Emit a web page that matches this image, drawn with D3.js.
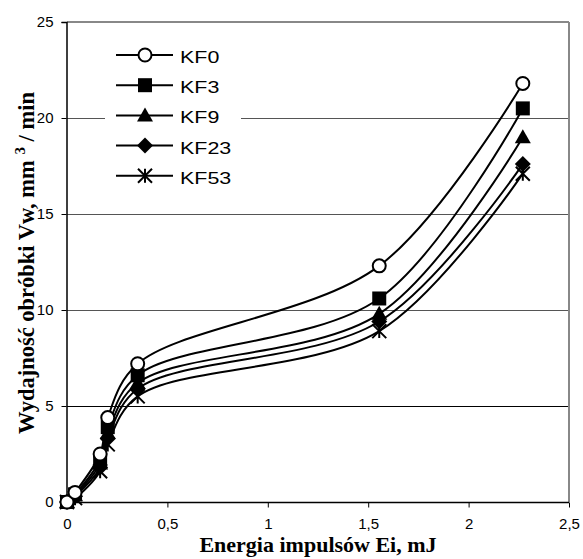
<!DOCTYPE html>
<html><head><meta charset="utf-8">
<script src="https://cdn.jsdelivr.net/npm/d3@7/dist/d3.min.js"></script>
<style>body{margin:0;background:#fff;} svg{display:block;}</style>
</head><body>
<svg id="chart" width="583" height="559"></svg>
<script>
const energies = [0, 0.04, 0.165, 0.203, 0.352, 1.555, 2.27];
const seriesNames = ["KF0", "KF3", "KF9", "KF23", "KF53"];
const kf0  = [0, 0.5, 2.5, 4.4, 7.2, 12.3, 21.8];
const kf3  = [0, 0.4, 2.2, 3.9, 6.6, 10.6, 20.5];
const kf9  = [0, 0.35, 2.0, 3.6, 6.2, 9.8, 19.0];
const kf23 = [0, 0.3, 1.8, 3.3, 5.9, 9.4, 17.6];
const kf53 = [0, 0.2, 1.6, 3.0, 5.5, 8.9, 17.1];
const markers = ["circle", "square", "triangle", "diamond", "star"];
const xTicks = [0, 0.5, 1, 1.5, 2, 2.5];
const yTicks = [0, 5, 10, 15, 20, 25];
const xTitle = "Energia impulsów Ei, mJ";

const seriesVals = [kf0, kf3, kf9, kf23, kf53];
const svg = d3.select("#chart");
const x = d3.scaleLinear().domain([0, 2.5]).range([67, 569]);
const y = d3.scaleLinear().domain([0, 25]).range([502, 22]);
const fmt = d => String(d).replace(".", ",");

// gridlines
svg.append("g").selectAll("line").data(yTicks.filter(d => d > 0 && d < 25)).join("line")
  .attr("x1", x(0)).attr("x2", x(2.5))
  .attr("y1", d => Math.round(y(d)) + 0.5).attr("y2", d => Math.round(y(d)) + 0.5)
  .attr("stroke", d => d === 5 ? "#000" : "#555").attr("stroke-width", 1);
// top & right border
svg.append("line").attr("x1", x(0)).attr("x2", x(2.5)).attr("y1", y(25)).attr("y2", y(25))
  .attr("stroke", "#888").attr("stroke-width", 2);
svg.append("line").attr("x1", x(2.5)).attr("x2", x(2.5)).attr("y1", y(25)).attr("y2", y(0))
  .attr("stroke", "#888").attr("stroke-width", 2);

// axes
const xAxis = svg.append("g").attr("transform", `translate(0,${Math.round(y(0)) + 0.5})`)
  .call(d3.axisBottom(x).tickValues(xTicks).tickFormat(fmt).tickSize(5).tickPadding(11));
const yAxis = svg.append("g").attr("transform", `translate(${Math.round(x(0)) - 0.5},0)`)
  .call(d3.axisLeft(y).tickValues(yTicks).tickFormat(fmt).tickSize(5).tickPadding(8));
[xAxis, yAxis].forEach(g => {
  g.select(".domain").attr("stroke", "#000").attr("stroke-width", 1.5);
  g.selectAll(".tick line").attr("stroke", "#000");
  g.selectAll("text").attr("font-family", "Liberation Sans, Arial, sans-serif")
    .attr("font-size", 15).attr("fill", "#000");
});
xAxis.select(".domain").attr("d", `M${x(0)},0H${x(2.5)}`);

// lines
const line = d3.line().x((d, i) => x(energies[i])).y(d => y(d)).curve(d3.curveCatmullRom.alpha(0.5));
const gLines = svg.append("g");
seriesVals.forEach(vals => {
  gLines.append("path").attr("d", line(vals)).attr("fill", "none")
    .attr("stroke", "#000").attr("stroke-width", 2);
});

function drawMarker(g, type, cx, cy) {
  if (type === "circle") {
    g.append("circle").attr("cx", cx).attr("cy", cy).attr("r", 6.5)
      .attr("fill", "#fff").attr("stroke", "#000").attr("stroke-width", 2);
  } else if (type === "square") {
    g.append("rect").attr("x", cx - 7).attr("y", cy - 7).attr("width", 14).attr("height", 14).attr("fill", "#000");
  } else if (type === "triangle") {
    g.append("path").attr("d", `M${cx},${cy - 8}L${cx + 8},${cy + 6}L${cx - 8},${cy + 6}Z`).attr("fill", "#000");
  } else if (type === "diamond") {
    g.append("path").attr("d", `M${cx},${cy - 8}L${cx + 8},${cy}L${cx},${cy + 8}L${cx - 8},${cy}Z`).attr("fill", "#000");
  } else {
    const r = 7;
    g.append("path").attr("d", `M${cx},${cy - r}V${cy + r}M${cx - r},${cy - r}L${cx + r},${cy + r}M${cx + r},${cy - r}L${cx - r},${cy + r}`)
      .attr("stroke", "#000").attr("stroke-width", 2).attr("fill", "none");
  }
}
const gMarks = svg.append("g");
for (let s = seriesVals.length - 1; s >= 0; s--) {
  seriesVals[s].forEach((v, i) => drawMarker(gMarks, markers[s], x(energies[i]), y(v)));
}

// legend
const lg = svg.append("g");
lg.append("rect").attr("x", 105).attr("y", 40).attr("width", 136).attr("height", 150).attr("fill", "#fff");
seriesNames.forEach((name, i) => {
  const cy = 55 + i * 30.2;
  lg.append("line").attr("x1", 116).attr("x2", 173).attr("y1", cy).attr("y2", cy)
    .attr("stroke", "#000").attr("stroke-width", 2);
  drawMarker(lg, markers[i], 145, cy);
  lg.append("text").attr("transform", `translate(180,${cy + 8}) scale(1.3,1)`)
    .attr("font-family", "Liberation Sans, Arial, sans-serif").attr("font-size", 16.5)
    .text(name);
});

// titles
svg.append("text").attr("x", 318).attr("y", 552).attr("text-anchor", "middle")
  .attr("font-family", "Liberation Serif, Times New Roman, serif").attr("font-weight", "bold")
  .attr("font-size", 22).text(xTitle);
const yt = svg.append("text").attr("transform", "translate(34,263) rotate(-90)").attr("text-anchor", "middle")
  .attr("font-family", "Liberation Serif, Times New Roman, serif").attr("font-weight", "bold")
  .attr("font-size", 22.5);
yt.append("tspan").text("Wydajność obróbki Vw, mm ");
yt.append("tspan").attr("font-size", 15).attr("dy", -9).text("3");
yt.append("tspan").attr("dy", 9).text(" / min");
</script>
</body></html>
